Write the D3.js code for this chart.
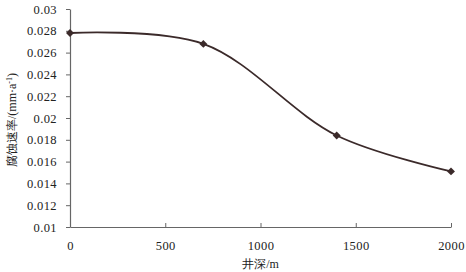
<!DOCTYPE html>
<html>
<head>
<meta charset="utf-8">
<script src="https://cdn.jsdelivr.net/npm/d3@7"></script>
<style>
  body { margin: 0; background: #fff; }
  text { font-family: "Liberation Serif", "DejaVu Serif", serif; fill: #222; }
</style>
</head>
<body>
<div id="canvas"></div>
<script>
"use strict"

let svgWidth = 466;
let svgHeight = 272;

let marginLeft = 70;
let marginRight = 15;
let marginTop = 9;
let marginBottom = 45;

// well depth (m) and corrosion rate (mm/a)
let depths = [0, 700, 1400, 2000];
let rates = [0.0278, 0.0268, 0.0184, 0.0151];

let xTicks = [0, 500, 1000, 1500, 2000];
let yTicks = [0.01, 0.012, 0.014, 0.016, 0.018, 0.02, 0.022, 0.024, 0.026, 0.028, 0.03];

let dataset = depths.map(function(d, i) { return {depth: d, rate: rates[i]}; });

let svg = d3.select("#canvas")
    .append("svg")
    .attr("width", svgWidth)
    .attr("height", svgHeight);

let xScale = d3.scaleLinear()
    .domain([0, 2000])
    .range([marginLeft, svgWidth - marginRight]);

let yScale = d3.scaleLinear()
    .domain([0.01, 0.03])
    .range([svgHeight - marginBottom, marginTop]);

/* axes */
let xAxis = svg.append("g")
    .attr("transform", "translate(0," + (svgHeight - marginBottom) + ")")
    .call(d3.axisBottom(xScale).tickValues(xTicks).tickSizeInner(-4).tickSizeOuter(0).tickPadding(14)
        .tickFormat(d3.format("d")));

let yAxis = svg.append("g")
    .attr("transform", "translate(" + marginLeft + ",0)")
    .call(d3.axisLeft(yScale).tickValues(yTicks).tickSizeInner(4).tickSizeOuter(0).tickPadding(9)
        .tickFormat(function(d) { return String(+d.toFixed(3)); }));

svg.selectAll(".domain").attr("stroke", "#666").attr("stroke-width", 1.2);
svg.selectAll(".tick line").attr("stroke", "#666");
svg.selectAll(".tick text")
    .attr("font-family", "Liberation Serif, DejaVu Serif, serif")
    .attr("font-size", 12.5)
    .attr("letter-spacing", 0.4)
    .attr("fill", "#222");

/* smoothed line */
let line = d3.line()
    .x(function(d) { return xScale(d.depth); })
    .y(function(d) { return yScale(d.rate); })
    .curve(d3.curveCatmullRom.alpha(0.5));

svg.append("path")
    .datum(dataset)
    .attr("d", line)
    .attr("fill", "none")
    .attr("stroke", "#3b2a2a")
    .attr("stroke-width", 1.8);

/* diamond markers */
svg.selectAll(".marker")
    .data(dataset)
    .join("path")
    .attr("class", "marker")
    .attr("d", d3.symbol().type(d3.symbolDiamond2).size(40))
    .attr("transform", function(d) {
        return "translate(" + xScale(d.depth) + "," + yScale(d.rate) + ")";
    })
    .attr("fill", "#3b2a2a");

/* axis labels */
svg.append("text")
    .attr("x", (marginLeft + svgWidth - marginRight) / 2)
    .attr("y", svgHeight - 4)
    .attr("text-anchor", "middle")
    .attr("font-size", 12)
    .text("井深/m");

let yLabel = svg.append("text")
    .attr("transform", "rotate(-90)")
    .attr("x", -120)
    .attr("y", 16)
    .attr("text-anchor", "middle")
    .attr("font-size", 12);

yLabel.append("tspan").text("腐蚀速率/(mm·a");
yLabel.append("tspan").attr("baseline-shift", "super").attr("font-size", 8).text("-1");
yLabel.append("tspan").text(")");
</script>
</body>
</html>
